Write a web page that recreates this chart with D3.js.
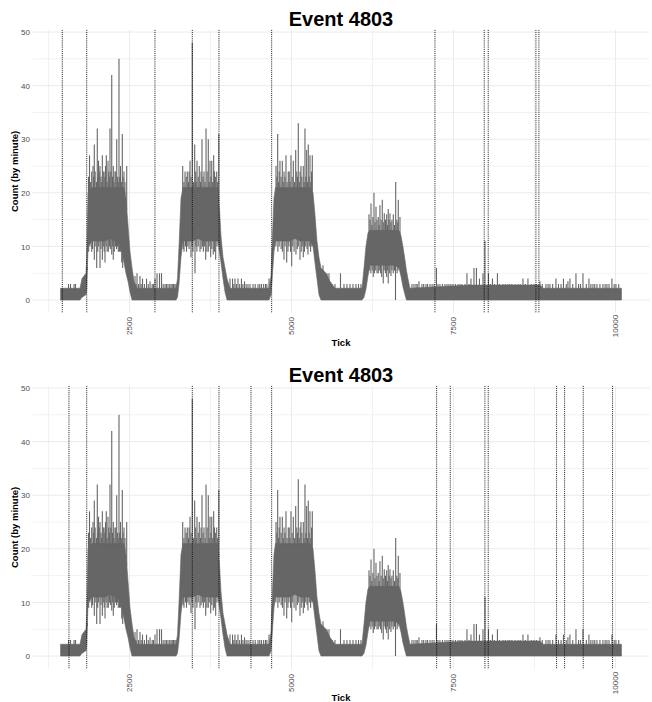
<!DOCTYPE html>
<html><head><meta charset="utf-8">
<script src="https://cdn.jsdelivr.net/npm/d3@7/dist/d3.min.js"></script>
<style>
body{margin:0;background:#fff;}
svg{display:block;font-family:"Liberation Sans",Arial,Helvetica,sans-serif;}
</style>
</head><body>
<svg id="chart" width="652" height="702"></svg>
<script>
// ---------- data ----------
const chartTitle = "Event 4803";
const xTitle = "Tick";
const yTitle = "Count (by minute)";
const xTickValues = [2500, 5000, 7500, 10000];
const yTickValues = [0, 10, 20, 30, 40, 50];

// envelope of the per-minute counts (solid band of the series)
const envTick = [1436,1736,1767,1829,1840,1860,1922,1983,2045,2122,2199,2276,2354,2415,2446,2477,2508,2539,2570,2616,
  3218,3241,3264,3295,3326,3403,3480,3557,3634,3711,3789,3866,3889,3912,3943,3974,4005,4051,
  4653,4684,4707,4730,4753,4822,4900,4977,5054,5131,5208,5285,5332,5362,5393,5424,5455,5532,5594,5671,
  6088,6119,6149,6180,6211,6288,6365,6443,6520,6597,6659,6689,6720,6751,6774,6797,6828,
  7754,8834,8881,10092];
const envLo = [0,0,0.5,1,2,10,11,11,11,11,11.5,11,10.5,7,5,3.5,1.5,0,0,0,
  0,0.5,3,8,11,11,11,11.5,11,11,11,11,9,7,4,1.5,0,0,
  0,1,5,9,11,11,11,11,11.5,11,11,11,10,7,4,1,0,0,0,0,
  0,0.5,2,4.5,6.5,6.5,6.5,6.5,6.5,6.5,6,4.5,2.5,1,0,0,0,
  0,0,0,0];
const envHi = [2.2,2.2,4,5,8,20,21,21,21,21,21,21,21,21,19,14,9,6,3.5,2.2,
  2.2,4,10,19,21,21,21,21,21,21,21,21,17,12,8,6,4,2.2,
  2.2,4.5,12,19,21,21,21,21,21,21,21,21,20,16,11,8,6,5,3.5,2.2,
  2.2,6,10,12.5,13,13,13,13,13,13,13,12,10,7.5,5.5,4,2.2,
  2.8,2.8,2.2,2.2];

// isolated upward spikes
const peakTick = [1559,1590,1644,1667,
  1883,1917,1937,1957,2003,2022,2045,2081,2107,2142,2168,2199,2226,2250,2276,2303,2338,2361,2389,2415,2457,
  2585,2616,2662,2701,2763,2817,2894,2925,2963,2994,3048,3094,3141,3179,3218,
  3321,3357,3392,3434,3469,3506,3542,3577,3619,3650,3681,3716,3742,3769,3799,3846,3878,
  4051,4090,4128,4174,4228,4275,4329,4406,4483,4537,4599,4653,
  4761,4787,4822,4858,4915,4950,4992,5028,5065,5105,5146,5182,5208,5234,5259,5285,5321,
  5486,5517,5548,5578,5625,5671,5756,5810,5856,5903,5949,5995,6034,6072,
  6196,6227,6273,6304,6339,6365,6401,6432,6469,6493,6520,6571,6608,6648,6674,
  6859,6921,6967,7013,7075,7137,7237,7291,7368,7430,7492,7569,7631,7677,7708,7770,7816,7854,7901,7955,7986,
  8040,8101,8178,8263,8340,8402,8495,8572,8649,8742,8834,8927,8989,9081,9197,9266,9297,9390,9498,9590,9652,
  9714,9806,9868,9945,10007];
const peakCount = [3,3,3,3,
  27,24,25,29,32,26,25,27,24,27,26,32,42,25,24,30,45,25,31,24,25,
  4.5,5,4.5,4,4,3.5,4,5,5,5,3,3,3,3,3,
  25,24,24,26,48,29,26,25,30,24,32,30,26,26,27,24,31,
  4,4,4,4,4,3.5,3,3,3,3,3,4,
  25,31,26,26,27,24,27,26,28,33,25,25,32,28,29,27,27,
  6.5,5,5,5,3,3,5,3,3,3,3,3,3,3,
  16,18,20,17.4,15.5,17.7,18.7,16.2,16,17,16.2,16,22,18.7,15.5,
  3,3,3.5,3,3,3,6,3,3,3,3,3,3,3,5,4,6,6,4,5,11,
  5,4,5,3,3,3,3,4,4,3,3.5,3,3,4,4,3.5,4,5,5,4,3,
  3,3,3,4,3];

// small ragged hairs along the top of the band
const ridgeTick = [1868,1900,1947,1970,1990,2012,2033,2060,2070,2094,2120,2130,2155,2180,2190,2212,2238,2262,2289,2317,2326,2349,2374,2400,2430,
  2600,2640,2680,2730,2790,2850,2870,3020,3070,3120,3160,3200,
  3340,3375,3410,3420,3450,3488,3522,3530,3560,3595,3605,3635,3666,3698,3730,3756,3784,3812,3825,3860,
  4110,4150,4200,4250,4300,4360,4440,4510,4570,4620,
  4774,4800,4810,4840,4872,4885,4900,4932,4965,4978,5010,5045,5082,5092,5120,5133,5160,5195,5221,5247,5272,5298,5310,
  6212,6240,6256,6288,6320,6352,6383,6416,6450,6481,6507,6535,6550,6590,6625,6640,
  6890,6940,7040,7100,7170,7200,7260,7330,7400,7460,7530,7600,7740,8070,8130,8210,8300,8370,8450,8530,8610,8700,
  8780,8870,8960,9030,9120,9160,9240,9340,9430,9460,9550,9620,9680,9760,9840,9900,9980,10050];
const ridgeCount = [23,22,23,24,22,23,24,23,22,24,23,25,22,24,23,24,23,22,24,23,22,23,22,23,22,
  3,3,3,3,3,3,3,3,3,3,3,3,
  22,23,22,24,23,22,24,22,23,22,24,23,22,24,22,23,22,24,23,22,
  3,3,3,3,3,3,3,3,3,3,
  23,22,24,23,22,24,23,22,24,22,23,22,24,23,22,24,23,22,23,22,23,22,24,
  15,14,15.5,14.5,15,14,15,14.5,15,14,15,14.5,15,14,15,14.5,
  3,3,3,3,3,3,3,3,3,3,3,3,3,3,3,3,3,3,3,3,3,3,
  3,3,3,3,3,3,3,3,3,3,3,3,3,3,3,3,3,3];

// downward dips below the band inside the humps
const dipTick = [1849,1917,1957,1994,2045,2081,2122,2173,2226,2250,2327,2380,
  1870,1890,1930,1970,2010,2025,2060,2095,2110,2140,2155,2190,2205,2240,2265,2285,2300,2315,2345,2360,2395,
  3341,3449,3511,3588,3676,3716,3753,3793,3830,
  3330,3365,3380,3400,3420,3465,3480,3525,3540,3560,3605,3625,3640,3660,3695,3730,3770,3810,3850,
  4884,4926,5003,5069,5131,5182,5254,
  4760,4790,4810,4840,4860,4900,4945,4960,4985,5020,5040,5090,5105,5150,5165,5200,5220,5240,5275,5295,5315,
  6262,6339,6392,6416,6469,6493,6535,6605,
  6200,6225,6245,6280,6300,6320,6355,6375,6430,6450,6480,6515,6550,6570,6590,6630,6645];
const dipCount = [7.5,9,7.5,6,6,7.5,7,9,8.5,7.5,9,7,
  9,10,9.5,10,9,10,9.5,10,9,10,9,10,9.5,10,9,10,9.5,10,9,9,6,
  9,8,5,9,7.5,9,8,8.5,7.5,
  9.5,10,9,10,9.5,10,9,10,9,10,9.5,10,9,10,9,10,9.5,9,10,
  7.5,7,6.3,8.5,7.5,8,8.5,
  10,9,10,9.5,9,10,9,10,9,10,9,9.5,10,9,10,9,10,9.5,10,9,10,
  4.3,5,4.3,3.1,4.3,3.1,4.5,0,
  5.5,5,5.5,5,5.5,5,5.5,5,5.5,5,5.5,5,5.5,5,5.5,5,5.5];

// dotted reference lines
const vlinesTop = [1463,1840,2893,3469,3881,4694,7214,7974,8036,8772,8818];
const vlinesBottom = [1566,1840,3469,3881,4375,4694,7240,7450,7985,8036,9091,9215,9502,9955];

// ---------- drawing ----------
const svg = d3.select("#chart");
svg.append("rect").attr("width",652).attr("height",702).attr("fill","#fff");

const left = 32.5, right = 649.5, panelH = 283;
const tExt = d3.extent(envTick), tPad = (tExt[1]-tExt[0])*0.05;
const yMax = Math.max(d3.max(peakCount), d3.max(envHi)), yPad = yMax*0.05;
const x = d3.scaleLinear().domain([tExt[0]-tPad, tExt[1]+tPad]).range([left, right]);
const hiAt = d3.scaleLinear().domain(envTick).range(envHi);
const loAt = d3.scaleLinear().domain(envTick).range(envLo);

const xMinor = xTickValues.map(v => v - 1250).filter(v => v >= x.domain()[0]);
const yMinor = yTickValues.slice(1).map(v => v - 5);

const panels = [
  {top: 29.9, vlines: vlinesTop, labelY: 326, titleY: 26, xTitleY: 346},
  {top: 385.9, vlines: vlinesBottom, labelY: 683, titleY: 382, xTitleY: 701}
];

const col = "#666666";

panels.forEach(p => {
  const g = svg.append("g");
  const y = d3.scaleLinear().domain([-yPad, yMax + yPad]).range([p.top + panelH, p.top]);
  const grid = g.append("g");
  yMinor.forEach(v => grid.append("line").attr("x1", left).attr("x2", right)
    .attr("y1", y(v)).attr("y2", y(v)).attr("stroke", "#efefef").attr("stroke-width", 0.8));
  xMinor.forEach(v => grid.append("line").attr("x1", x(v)).attr("x2", x(v))
    .attr("y1", p.top).attr("y2", p.top + panelH).attr("stroke", "#efefef").attr("stroke-width", 0.8));
  yTickValues.forEach(v => grid.append("line").attr("x1", left).attr("x2", right)
    .attr("y1", y(v)).attr("y2", y(v)).attr("stroke", "#ebebeb").attr("stroke-width", 1));
  xTickValues.forEach(v => grid.append("line").attr("x1", x(v)).attr("x2", x(v))
    .attr("y1", p.top).attr("y2", p.top + panelH).attr("stroke", "#ebebeb").attr("stroke-width", 1));

  // band
  const idx = d3.range(envTick.length);
  g.append("path")
    .attr("d", d3.area().x(i => x(envTick[i])).y0(i => y(envLo[i])).y1(i => y(envHi[i]))(idx))
    .attr("fill", col).attr("stroke", col).attr("stroke-width", 0.6);

  // hairs above the band
  const up = (ticks, counts) => g.append("g").selectAll("line").data(ticks).join("line")
    .attr("x1", d => x(d)).attr("x2", d => x(d))
    .attr("y1", d => y(Math.max(0, hiAt(d) - 0.5)))
    .attr("y2", (d, i) => y(counts[i]))
    .attr("stroke", col).attr("stroke-width", 1.1);
  up(ridgeTick, ridgeCount);
  up(peakTick, peakCount);
  // dips below the band
  g.append("g").selectAll("line").data(dipTick).join("line")
    .attr("x1", d => x(d)).attr("x2", d => x(d))
    .attr("y1", d => y(loAt(d) + 0.5))
    .attr("y2", (d, i) => y(Math.min(dipCount[i], loAt(d))))
    .attr("stroke", col).attr("stroke-width", 1.1);

  // dotted lines
  g.append("g").selectAll("line").data(p.vlines).join("line")
    .attr("x1", d => x(d)).attr("x2", d => x(d))
    .attr("y1", p.top).attr("y2", p.top + panelH)
    .attr("stroke", "#000").attr("stroke-width", 0.9).attr("stroke-dasharray", "1,1.1");

  // axes labels
  const yAxis = d3.axisLeft(y).tickValues(yTickValues).tickSize(0).tickPadding(0);
  const ya = g.append("g").attr("transform", `translate(${left - 2.5},0)`).call(yAxis);
  ya.select(".domain").remove();
  ya.selectAll("text").attr("font-size", 8).attr("fill", "#4d4d4d")
    .attr("font-family", "'Liberation Sans',Arial,sans-serif");

  const xa = g.append("g");
  xTickValues.forEach(v => {
    xa.append("text").attr("transform", `translate(${x(v)},${p.labelY}) rotate(-90)`)
      .attr("text-anchor", "middle").attr("dy", "0.35em")
      .attr("font-size", 8).attr("fill", "#4d4d4d").text(d3.format("d")(v));
  });

  g.append("text").attr("x", (left + right) / 2).attr("y", p.titleY)
    .attr("text-anchor", "middle").attr("font-size", 20).attr("font-weight", "bold")
    .attr("fill", "#000").text(chartTitle);
  g.append("text").attr("x", (left + right) / 2).attr("y", p.xTitleY)
    .attr("text-anchor", "middle").attr("font-size", 9.5).attr("font-weight", "bold")
    .attr("fill", "#000").text(xTitle);
  g.append("text").attr("transform", `translate(18.3,${p.top + panelH / 2}) rotate(-90)`)
    .attr("text-anchor", "middle").attr("font-size", 9.5).attr("font-weight", "bold")
    .attr("fill", "#000").text(yTitle);
});
</script>
</body></html>
